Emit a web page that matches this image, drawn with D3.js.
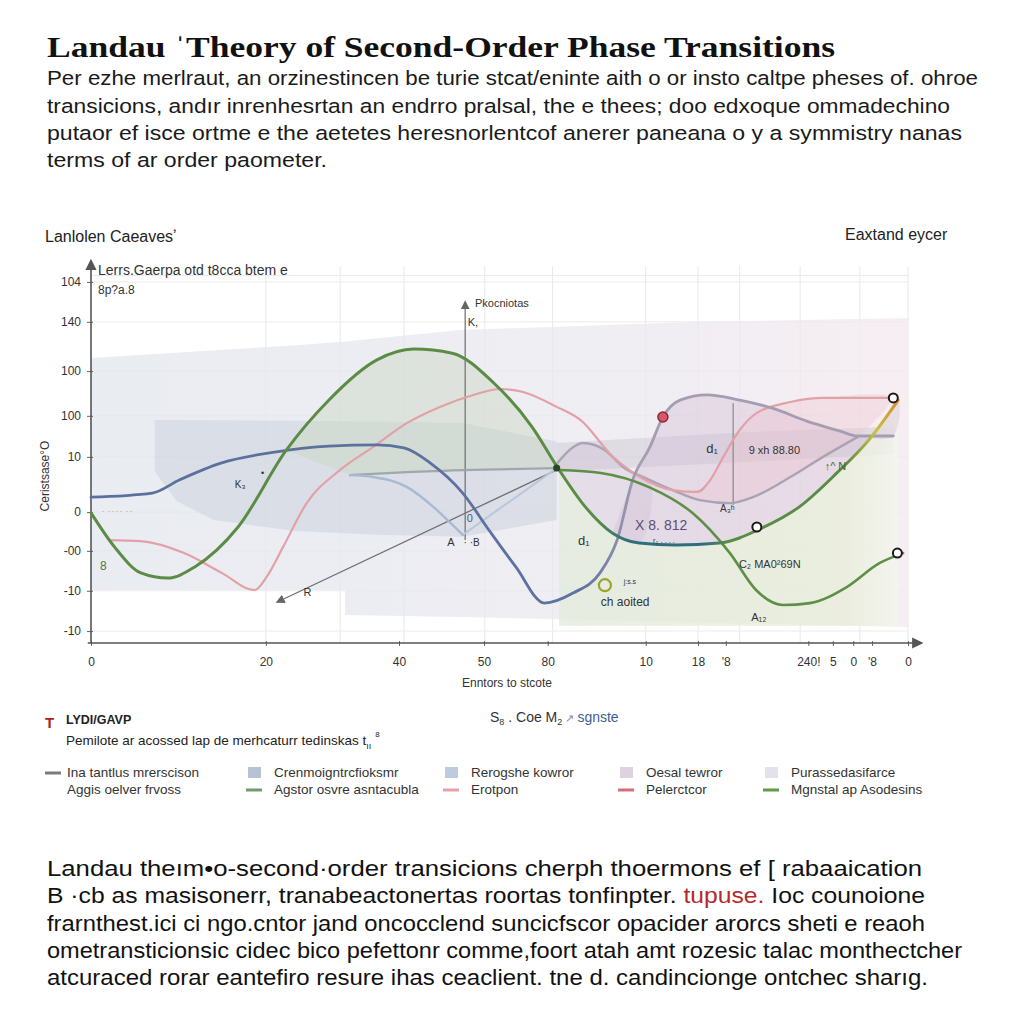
<!DOCTYPE html>
<html><head><meta charset="utf-8">
<script src="https://cdn.jsdelivr.net/npm/d3@7"></script>
<style>body{margin:0;background:#fff}svg{display:block}</style>
</head><body><svg id="c" width="1024" height="1024"></svg>
<script>
// ---------- DATA ----------
const titleText = "Landau \u02C8Theory of Second-Order Phase Transitions";
const introLines = [
  "Per ezhe merlraut, an orzinestincen be turie stcat/eninte aith o or insto caltpe pheses of. ohroe",
  "transicions, and\u0131r inrenhesrtan an endrro pralsal, the e thees; doo edxoque ommadechino",
  "putaor ef isce ortme e the aetetes heresnorlentcof anerer paneana  o y a symmistry nanas",
  "terms of ar order paometer."
];
const outroLines = [
  ["Landau the\u0131m\u2022o-second\u00B7order transicions  cherph thoermons ef [ rabaaication"],
  ["B \u00B7cb as masisonerr, tranabeactonertas roortas tonfinpter. ", "tupuse.", " Ioc counoione"],
  ["frarnthest.ici ci ngo.cntor jand oncocclend suncicfscor opacider arorcs sheti e reaoh"],
  ["ometransticionsic cidec bico pefettonr comme,foort atah amt rozesic talac monthectcher"],
  ["atcuraced rorar eantefiro resure ihas ceaclient. tne d. candincionge ontchec  shar\u0131g."]
];
const topLeftLabel = "Lanlolen Caeaves\u02BC";
const topRightLabel = "Eaxtand eycer";
const yAxisTitle = "Ceristsase\u00B0O";
const xAxisTitle = "Enntors to stcote";
const yAxisNote = ["Lerrs.Gaerpa otd t8cca btem e", "8p?a.8"];

const xTickVals   = [0, 21.4, 37.7, 48.1, 55.9, 67.9, 74.3, 77.7, 87.8, 90.8, 93.3, 95.6, 100];
const xTickLabels = ["0","20","40","50","80","10","18","'8","240!","5","0","'8","0"];
const xGridVals   = [21.4, 30.5, 38.3, 48.2, 56.5, 67.9, 74.3, 79.4, 86.8, 94.1, 100];
const yTickVals   = [96.8, 86.1, 72.9, 60.9, 49.9, 35.1, 24.7, 14.0, 3.2];
const yTickLabels = ["104","140","100","100","10","0","-00","-10","-10"];

const greenMain = [[0,34.9],[2.9,25.7],[6.1,18.8],[9.4,17.4],[12.7,20.4],[18.0,31.1],[23.9,51.7],[29.1,65.1],
  [35.0,75.9],[39.5,78.8],[44.2,77.7],[49.3,69.7],[54.0,57.9],[57.3,46.4],[60.5,36.5],[63.8,29.5],[67.1,26.8],
  [71.6,26.3],[76.9,26.8],[82.1,30.8],[86.7,36.5],[91.3,45.6],[95.2,54.4],[98.8,65.1]];
const greenB = [[57.3,46.4],[62.4,45.6],[68.3,41.8],[73.6,34.9],[78.2,24.1],[81.4,14.2],[84.7,10.2],
  [88.0,10.7],[92.5,15.0],[96.5,21.4],[99.4,24.1]];
const blueOrder = [[0,39.1],[7.5,40.2],[10.8,43.7],[16.0,48.3],[22.5,51.2],[29.1,52.8],[35.0,53.1],[38.3,52.3],
  [41.5,48.3],[45.5,40.2],[48.7,30.3],[52.0,20.4],[55.5,10.7],[59.0,13.4],[62.3,18.8],[64.4,27.6],[66.3,43.7],
  [68.4,52.5],[70.0,60.6],[72.1,65.1],[75.4,66.5],[79.4,65.1],[83.5,62.9],[87.6,59.5],[91.7,56.8],[93.8,55.5],[98.2,55.5]];
const pinkCurve = [[2.2,27.6],[6.1,27.3],[11.4,24.1],[16.0,18.8],[20.0,14.2],[21.5,17.7],[23.5,25.7],[26.4,37.5],
  [30.5,46.4],[34.5,52.5],[38.7,59.0],[42.7,63.3],[46.8,66.5],[50.1,68.1],[52.9,67.3],[57.0,63.3],[59.9,59.8],
  [63.9,49.9],[67.2,44.5],[71.2,41.0],[74.2,40.5],[75.8,43.7],[77.4,49.9],[79.4,57.1],[81.5,61.7],[85.6,64.6],
  [89.6,65.7],[97.8,65.7]];
const lowerGray = [[56.7,47.2],[59.0,52.5],[60.2,53.6],[62.9,51.7],[65.1,47.2],[68.4,43.7],[71.2,41.0],
  [74.5,38.3],[78.2,37.5],[81.0,39.1],[85.6,44.5],[89.6,49.9],[93.8,55.2]];
const lightBlue = [[31.7,45.0],[34.5,44.5],[38.7,41.8],[41.9,36.5],[44.0,32.2],[45.5,29.0]];
const grayFlat = [[31.7,45.0],[38.7,45.8],[46.8,46.4],[57.0,46.9]];
const paleLink = [[45.5,29.0],[57.0,46.9]];
const bigBand = [[0,76.4,14.2],[25.6,79.9,14.2],[31.1,80.8,14.2],[31.1,80.8,7.5],[45.2,83.9,7.0],[74.5,86.1,5.5],[100,87.1,4.3]];
const slateBand = [[7.8,59.8,46.0],[10.5,59.8,38.0],[15,59.7,33.0],[25,59.6,30.0],[35,59.4,29.0],[45.5,59.0,28.5],[57,54,33]];
const rightBand = [[57,53.6,46.0],[80,56.5,48.5],[98.2,58.0,50.7]];

const openMarkers = [[81.5,31.1],[98.2,65.7],[98.7,24.1]];
const redMarker = [[70.0,60.6]];
const ringMarker = [[62.9,15.5]];
const junctionDot = [[57.0,46.9]];

const annotations = [
  {t:"Pkocniotas", x:47.0, y:90.0, s:11},
  {t:"K,", x:46.1, y:85.0, s:11},
  {t:"d\u2081", x:75.3, y:51.0, s:13},
  {t:"9 xh 88.80", x:80.5, y:50.8, s:11},
  {t:"A\u2083\u02B0", x:77.0, y:35.2, s:10},
  {t:"X 8. 812", x:66.6, y:30.2, s:14, c:"#5a4f72"},
  {t:"r\u2082 \u2024\u2024\u2024\u2024", x:68.8, y:26.8, s:7},
  {t:"d\u2081", x:59.6, y:26.3, s:13},
  {t:"C\u2082 MA0\u00B269N", x:79.3, y:20.0, s:11},
  {t:"A\u2081\u2082", x:80.8, y:5.8, s:11},
  {t:"\u2191^  N", x:89.8, y:46.4, s:11, c:"#3d6a2a"},
  {t:"A", x:43.6, y:26.0, s:11},
  {t:"\u00B7 \u00B7B", x:45.6, y:26.0, s:10},
  {t:"0", x:46.0, y:32.5, s:11, c:"#4a5a8a"},
  {t:"R", x:26.0, y:12.6, s:11},
  {t:"K\u2083", x:17.6, y:41.5, s:10},
  {t:"\u2022", x:20.8, y:44.8, s:9},
  {t:"8", x:1.1, y:19.6, s:12, c:"#4a7a3a"},
  {t:"ch aoited", x:62.4, y:10.0, s:12},
  {t:"j:s.s", x:65.2, y:15.8, s:7},
  {t:"\u2024 \u2024\u2024\u2024\u2024      \u2024\u2024", x:1.2, y:35.0, s:8, c:"#999"}
];

const legendLabels = ["Ina tantlus mrerscison","Crenmoigntrcfioksmr","Rerogshe kowror","Oesal tewror","Purassedasifarce",
  "Aggis oelver frvoss","Agstor osvre asntacubla","Erotpon","Pelerctcor","Mgnstal ap Asodesins"];
const legendKinds = ["line","square","square","square","square","none","line","line","line","line"];
const legendColors = ["#7a7a7a","#b6c3d6","#bccbdf","#ddd2e0","#e2e2ea",null,"#6f9a70","#e3a3a6","#d46f7a","#5e9a48"];

// ---------- DRAW ----------
const svg = d3.select("#c");
svg.append("rect").attr("width",1024).attr("height",1024).attr("fill","#fff");
const defs = svg.append("defs");
const xs = d3.scaleLinear().domain([0,100]).range([91,908]);
const ys = d3.scaleLinear().domain([0,100]).range([643,270]);
const sans = "'Liberation Sans', Arial, sans-serif";

function arrowMarker(id, color){
  defs.append("marker").attr("id",id).attr("viewBox","0 0 10 10").attr("refX",8).attr("refY",5)
    .attr("markerWidth",7).attr("markerHeight",7).attr("orient","auto-start-reverse")
    .append("path").attr("d","M0,0 L10,5 L0,10 z").attr("fill",color);
}
arrowMarker("arAxis","#555"); arrowMarker("arGray","#666");

const gBand = defs.append("linearGradient").attr("id","gBand").attr("x1","0").attr("x2","1").attr("y1","0").attr("y2","0");
gBand.append("stop").attr("offset","0").attr("stop-color","#e2e6ed");
gBand.append("stop").attr("offset","0.6").attr("stop-color","#e9e8ef");
gBand.append("stop").attr("offset","1").attr("stop-color","#f3e8ee");
const gFade = defs.append("linearGradient").attr("id","gFade").attr("x1","0").attr("x2","1").attr("y1","0").attr("y2","0");
gFade.append("stop").attr("offset","0").attr("stop-color","#e3ebdc");
gFade.append("stop").attr("offset","0.85").attr("stop-color","#e8eed9");
gFade.append("stop").attr("offset","1").attr("stop-color","#f3f6ee");
function xGrad(id, stops){
  const g = defs.append("linearGradient").attr("id",id).attr("gradientUnits","userSpaceOnUse")
    .attr("x1",xs(0)).attr("x2",xs(100)).attr("y1",0).attr("y2",0);
  stops.forEach(s=>g.append("stop").attr("offset",s[0]).attr("stop-color",s[1]));
}
xGrad("gGreen",[[0,"#5b8c45"],[0.62,"#5b8c45"],[0.655,"#2f6f7c"],[0.75,"#2f6f7c"],[0.78,"#5b8c45"],[0.925,"#5b8c45"],[0.96,"#c9c23a"],[1,"#e07236"]]);
xGrad("gOrder",[[0,"#59709c"],[0.6,"#5d72a0"],[0.67,"#a59db2"],[1,"#a59db2"]]);

// title & intro
svg.append("text").attr("x",47).attr("y",57).text(titleText)
  .attr("font-family","'Liberation Serif', 'Times New Roman', serif").attr("font-weight","bold")
  .attr("font-size",30).attr("fill","#111").attr("textLength",788).attr("lengthAdjust","spacingAndGlyphs");
const introW = [931,903,915,280];
const introY = [85,113,140,167];
introLines.forEach((l,i)=>{
  svg.append("text").attr("x",47).attr("y",introY[i]).text(l).attr("font-family",sans).attr("font-size",20.5)
    .attr("fill","#1a1a1a").attr("textLength",introW[i]).attr("lengthAdjust","spacingAndGlyphs");
});

svg.append("text").attr("x",45).attr("y",242).text(topLeftLabel).attr("font-family",sans).attr("font-size",16).attr("fill","#222");
svg.append("text").attr("x",845).attr("y",240).text(topRightLabel).attr("font-family",sans).attr("font-size",16).attr("fill","#222");

const plot = svg.append("g");

plot.selectAll(".vg").data(xGridVals).enter().append("line")
  .attr("x1",d=>xs(d)).attr("x2",d=>xs(d)).attr("y1",ys(101)).attr("y2",ys(0))
  .attr("stroke","#e8e8ea").attr("stroke-width",1);
plot.selectAll(".hg").data(yTickVals.concat([98.5])).enter().append("line")
  .attr("x1",xs(0)).attr("x2",xs(100)).attr("y1",d=>ys(d)).attr("y2",d=>ys(d))
  .attr("stroke","#ebebed").attr("stroke-width",1);

const band = d3.area().x(d=>xs(d[0])).y0(d=>ys(d[2])).y1(d=>ys(d[1])).curve(d3.curveLinear);
plot.append("path").attr("d",band(bigBand)).attr("fill","url(#gBand)").attr("opacity",0.75);
plot.append("path").attr("d",band(slateBand)).attr("fill","#c3cad7").attr("opacity",0.42);
plot.append("path").attr("d",band(rightBand)).attr("fill","#c9c6d0").attr("opacity",0.45);

const polyLine = d3.line().x(d=>xs(d[0])).y(d=>ys(d[1])).curve(d3.curveCatmullRom.alpha(0.5));
function poly(upper, lower){ return polyLine(upper.concat(lower.slice().reverse())) + "Z"; }
const greenPeak = greenMain.filter(d=>d[0]>=23 && d[0]<=57.3);
plot.append("path").attr("d",poly(greenPeak, grayFlat.filter(d=>d[0]>=23)))
  .attr("fill","#c9d8c0").attr("opacity",0.45);
const gRight = greenMain.filter(d=>d[0]>=57.3);
const underArea = d3.area().x(d=>xs(d[0])).y0(ys(4.6)).y1(d=>ys(d[1])).curve(d3.curveMonotoneX);
plot.append("path").attr("d",underArea(gRight))
  .attr("fill","url(#gFade)").attr("opacity",0.8);
plot.append("path").attr("d",poly(blueOrder.filter(d=>d[0]>=66.3), greenMain.filter(d=>d[0]>=63.8)))
  .attr("fill","#cdb8d2").attr("opacity",0.35);
plot.append("path").attr("d",poly(lowerGray.filter(d=>d[0]<=68.4), greenMain.filter(d=>d[0]>=57.3 && d[0]<=67.1)))
  .attr("fill","#cdb8d2").attr("opacity",0.3);
plot.append("path").attr("d",poly(pinkCurve.filter(d=>d[0]>=71.2), lowerGray.filter(d=>d[0]>=71.2)))
  .attr("fill","#efc3cc").attr("opacity",0.35);

const yAx = d3.axisLeft(ys).tickValues(yTickVals).tickFormat((d,i)=>yTickLabels[i]).tickSize(6).tickPadding(6);
const yG = plot.append("g").attr("transform",`translate(${xs(0)+2},0)`).call(yAx);
yG.select(".domain").remove();
yG.selectAll("text").attr("font-family",sans).attr("font-size",12).attr("fill","#333");
yG.selectAll("line").attr("stroke","#666");
const xAx = d3.axisBottom(xs).tickValues(xTickVals).tickFormat((d,i)=>xTickLabels[i]).tickSize(5).tickPadding(9);
const xG = plot.append("g").attr("transform",`translate(0,${ys(0)})`).call(xAx);
xG.select(".domain").remove();
xG.selectAll("text").attr("font-family",sans).attr("font-size",12).attr("fill","#333");
xG.selectAll("line").attr("stroke","#666").attr("transform","translate(0,-2)");
plot.append("line").attr("x1",xs(-0.4)).attr("x2",xs(101.6)).attr("y1",ys(0)).attr("y2",ys(0))
  .attr("stroke","#555").attr("stroke-width",1.6).attr("marker-end","url(#arAxis)");
plot.append("line").attr("x1",xs(0)).attr("x2",xs(0)).attr("y1",ys(0)).attr("y2",ys(102.4))
  .attr("stroke","#555").attr("stroke-width",1.6).attr("marker-end","url(#arAxis)");

plot.append("line").attr("x1",xs(45.8)).attr("x2",xs(45.8)).attr("y1",ys(27.6)).attr("y2",ys(91.4))
  .attr("stroke","#777").attr("stroke-width",1.3).attr("marker-end","url(#arGray)");
plot.append("line").attr("x1",xs(78.6)).attr("x2",xs(78.6)).attr("y1",ys(64.3)).attr("y2",ys(37.0))
  .attr("stroke","#888").attr("stroke-width",1.2);
plot.append("line").attr("x1",xs(57.0)).attr("x2",xs(22.8)).attr("y1",ys(46.4)).attr("y2",ys(11.0))
  .attr("stroke","#707070").attr("stroke-width",1.3).attr("marker-end","url(#arGray)");

const line = d3.line().x(d=>xs(d[0])).y(d=>ys(d[1])).curve(d3.curveMonotoneX);
function drawLine(data, color, w, op){
  plot.append("path").attr("d",line(data)).attr("fill","none").attr("stroke",color)
    .attr("stroke-width",w).attr("stroke-linecap","round").attr("opacity",op||1);
}
drawLine(paleLink, "#b9c7da", 2);
drawLine(grayFlat, "#9aa2a6", 2.2, 0.9);
drawLine(lightBlue, "#a7bad4", 2.4);
drawLine(lowerGray, "#a9a3b4", 2.4);
drawLine(pinkCurve, "#e2a1a6", 2.2);
drawLine(blueOrder, "url(#gOrder)", 2.8);
drawLine(greenB, "#5e8f46", 2.6);
drawLine(greenMain, "url(#gGreen)", 3);

plot.selectAll(".jd").data(junctionDot).enter().append("circle")
  .attr("cx",d=>xs(d[0])).attr("cy",d=>ys(d[1])).attr("r",3.5).attr("fill","#234a22");
plot.selectAll(".rm").data(redMarker).enter().append("circle")
  .attr("cx",d=>xs(d[0])).attr("cy",d=>ys(d[1])).attr("r",5).attr("fill","#d9566a").attr("stroke","#8a2838").attr("stroke-width",1.5);
plot.selectAll(".om").data(openMarkers).enter().append("circle")
  .attr("cx",d=>xs(d[0])).attr("cy",d=>ys(d[1])).attr("r",4.5).attr("fill","#fff").attr("stroke","#1a1a1a").attr("stroke-width",2);
plot.selectAll(".rg").data(ringMarker).enter().append("circle")
  .attr("cx",d=>xs(d[0])).attr("cy",d=>ys(d[1])).attr("r",6).attr("fill","none").attr("stroke","#9aa62a").attr("stroke-width",2.2);

plot.selectAll(".an").data(annotations).enter().append("text")
  .attr("x",d=>xs(d.x)).attr("y",d=>ys(d.y)).text(d=>d.t)
  .attr("font-family",sans).attr("font-size",d=>d.s).attr("fill",d=>d.c||"#333");

svg.append("text").attr("x",98).attr("y",275).text(yAxisNote[0]).attr("font-family",sans).attr("font-size",14).attr("fill","#333");
svg.append("text").attr("x",98).attr("y",294).text(yAxisNote[1]).attr("font-family",sans).attr("font-size",12).attr("fill","#333");

svg.append("text").attr("transform","translate(49,476) rotate(-90)").attr("text-anchor","middle")
  .text(yAxisTitle).attr("font-family",sans).attr("font-size",12).attr("fill","#333");
svg.append("text").attr("x",507).attr("y",687).attr("text-anchor","middle")
  .text(xAxisTitle).attr("font-family",sans).attr("font-size",12).attr("fill","#333");

svg.append("text").attr("x",45).attr("y",728).text("T").attr("font-family",sans).attr("font-weight","bold")
  .attr("font-size",15).attr("fill","#b01e1e");
svg.append("text").attr("x",66).attr("y",724).text("LYDI/GAVP").attr("font-family",sans).attr("font-weight","bold")
  .attr("font-size",12.5).attr("fill","#222");
const sub1 = svg.append("text").attr("x",66).attr("y",745).attr("font-family",sans).attr("font-size",13.5).attr("fill","#222");
sub1.append("tspan").text("Pemilote ar acossed lap de merhcaturr tedinskas  t");
sub1.append("tspan").attr("dy",4).attr("font-size",9).text("\u0131\u0131");
sub1.append("tspan").attr("dy",-12).attr("dx",4).attr("font-size",8).text("8");
const sub2 = svg.append("text").attr("x",490).attr("y",722).attr("font-family",sans).attr("font-size",14).attr("fill","#333");
sub2.append("tspan").text("S");
sub2.append("tspan").attr("dy",3).attr("font-size",9).text("8");
sub2.append("tspan").attr("dy",-3).text(" . Coe M");
sub2.append("tspan").attr("dy",3).attr("font-size",9).text("2");
sub2.append("tspan").attr("dy",-3).attr("font-size",11).attr("fill","#7a8aa8").text("  \u2197  ");
sub2.append("tspan").attr("fill","#3d5f8f").text("sgnste");

const colX = [47,248,445,620,765];
const rowY = [773,790];
legendLabels.forEach((lab,i)=>{
  const col = i%5, row = Math.floor(i/5);
  const x0 = colX[col], y0 = rowY[row];
  const k = legendKinds[i];
  if(k==="line") svg.append("line").attr("x1",x0-2).attr("x2",x0+14).attr("y1",y0).attr("y2",y0)
      .attr("stroke",legendColors[i]).attr("stroke-width",3);
  if(k==="square") svg.append("rect").attr("x",x0).attr("y",y0-6).attr("width",13).attr("height",11)
      .attr("fill",legendColors[i]);
  const tx = col===0 ? 67 : x0+26;
  svg.append("text").attr("x",tx).attr("y",y0+4).text(lab).attr("font-family",sans).attr("font-size",13.5).attr("fill","#333");
});

const outW = [875,878,878,915,881];
const outY = [876,903,931,958,985];
outroLines.forEach((parts,i)=>{
  const t = svg.append("text").attr("x",47).attr("y",outY[i]).attr("font-family",sans).attr("font-size",22)
    .attr("fill","#111").attr("textLength",outW[i]).attr("lengthAdjust","spacingAndGlyphs");
  parts.forEach((p,j)=>{ t.append("tspan").text(p).attr("fill", (i===1 && j===1) ? "#b52a2a" : "#111"); });
});
</script>
</body></html>
